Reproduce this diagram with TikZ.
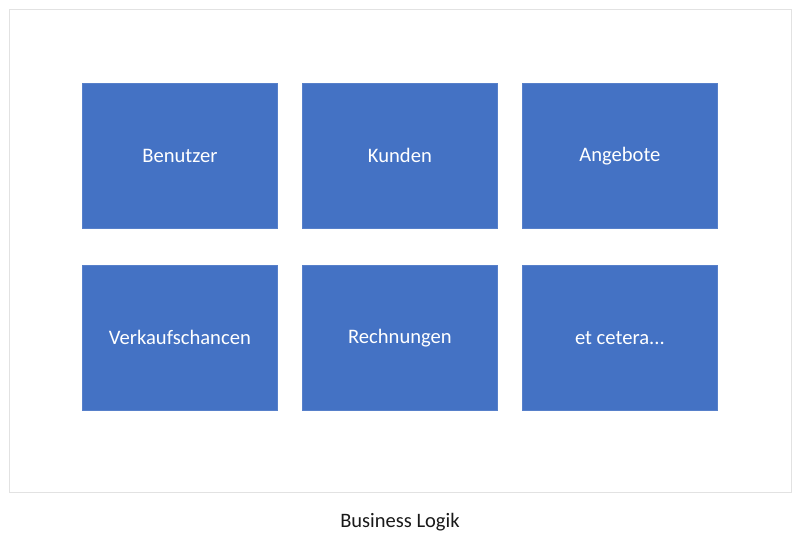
\documentclass[tikz,border=0pt]{standalone}
\usepackage{fontspec}
\setmainfont{Carlito}
\definecolor{officeblue}{HTML}{4472C4}
\definecolor{framegray}{HTML}{E2E2E2}
\begin{document}
\begin{tikzpicture}[x=1pt,y=-1pt,
  tile/.style={draw=officeblue!90!white, fill=officeblue, line width=0.8pt, minimum width=195pt, minimum height=145pt, inner sep=0pt, text=white, font=\fontsize{20.6}{24}\selectfont, anchor=north west},
  frame/.style={draw=framegray, line width=0.9pt}]
\useasboundingbox (0,0) rectangle (800,553);
\fill[white] (0,0) rectangle (800,553);
\draw[frame] (9,9) rectangle (791,492);
\node[tile] (benutzer) at (82,83) {Benutzer};
\node[tile] (kunden) at (302,83) {Kunden};
\node[tile] (angebote) at (522,83) {Angebote};
\node[tile] (verkauf) at (82,265) {Verkaufschancen};
\node[tile] (rechnungen) at (302,265) {Rechnungen};
\node[tile] (etc) at (522,265) {et cetera...};
\node[font=\fontsize{20.5}{24}\selectfont, text=black!90] (caption) at (400,522) {Business Logik};
\end{tikzpicture}
\end{document}
